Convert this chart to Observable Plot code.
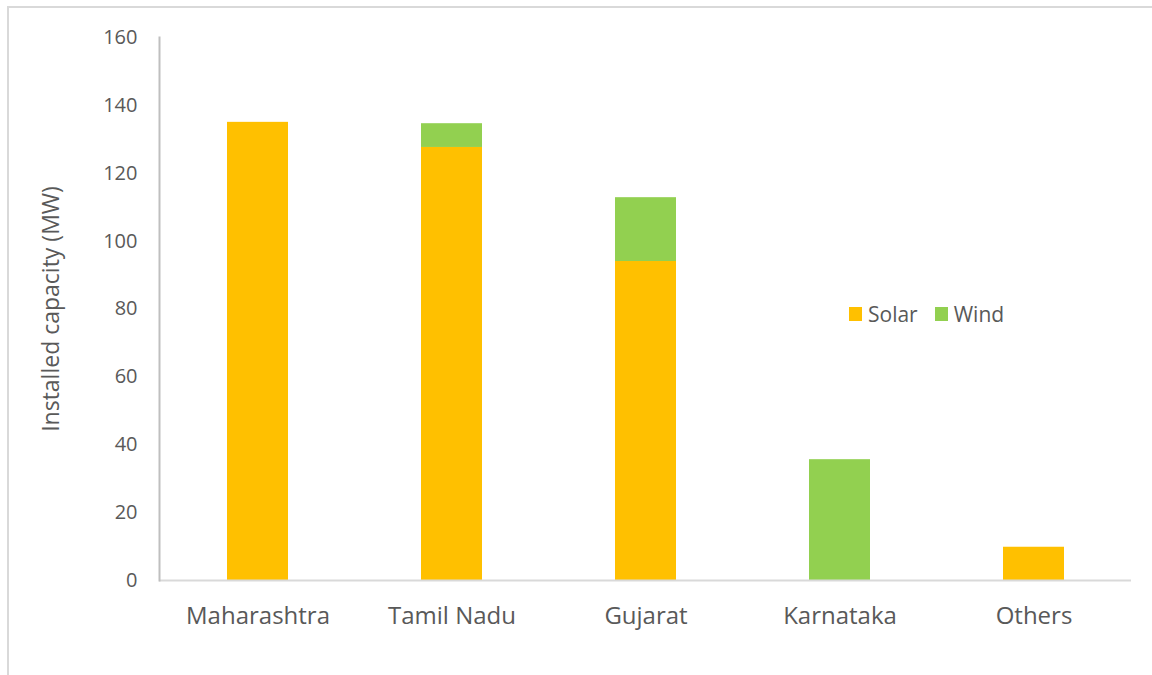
<!DOCTYPE html>
<html>
<head>
<meta charset="utf-8">
<script src="https://cdn.jsdelivr.net/npm/d3@7"></script>
<script src="https://cdn.jsdelivr.net/npm/@observablehq/plot@0.6"></script>
<style>
  html, body { margin: 0; padding: 0; background: #fff; width: 1152px; height: 675px; overflow: hidden; }
  #frame { position: absolute; left: 7px; top: 6px; width: 1170px; height: 700px; border: 2px solid #d9d9d9; box-sizing: border-box; }
  #chart { position: absolute; left: 0; top: 0; }
  #legend { position: absolute; left: 849px; top: 300px; display: flex; align-items: center; font-family: "Open Sans", sans-serif; font-size: 21px; color: #595959; }
  #legend .item { display: flex; align-items: center; margin-right: 17px; }
  #legend .sw { width: 13px; height: 14px; margin-right: 6px; }
</style>
</head>
<body>
<div id="frame"></div>
<div id="chart"></div>
<div id="legend"></div>
<script>
const states = ["Maharashtra", "Tamil Nadu", "Gujarat", "Karnataka", "Others"];
const solar = [135, 127.6, 94, 0, 9.8];
const wind = [0, 7, 18.8, 35.6, 0];
const seriesNames = ["Solar", "Wind"];
const seriesColors = ["#FFC000", "#92D050"];
const yTicks = [0, 20, 40, 60, 80, 100, 120, 140, 160];
const yLabel = "Installed capacity (MW)";

const data = [];
states.forEach((s, i) => {
  data.push({state: s, series: "Solar", value: solar[i]});
  data.push({state: s, series: "Wind", value: wind[i]});
});

const chart = Plot.plot({
  width: 1152,
  height: 675,
  marginLeft: 159,
  marginRight: 21,
  marginTop: 37,
  marginBottom: 95,
  style: {fontFamily: "'Open Sans', sans-serif", color: "#595959", background: "transparent"},
  x: {domain: states, paddingInner: 0.686, paddingOuter: 0.343, label: null},
  y: {domain: [0, 160], ticks: yTicks, label: yLabel},
  color: {domain: seriesNames, range: seriesColors},
  marks: [
    Plot.barY(data, {x: "state", y: "value", fill: "series", order: seriesNames}),
    Plot.ruleY([0], {stroke: "#d9d9d9", strokeWidth: 2}),
    Plot.frame({anchor: "left", stroke: "#bfbfbf", strokeWidth: 2}),
    Plot.axisY({ticks: yTicks, tickSize: 0, tickPadding: 22, fontSize: 20, label: null, fill: "#595959"}),
    Plot.axisY({ticks: [], tickSize: 0, fontSize: 23, label: yLabel, labelAnchor: "center", labelArrow: "none", labelOffset: 117, fill: "#595959"}),
    Plot.axisX({tickSize: 0, tickPadding: 26, fontSize: 24, label: null, fill: "#595959"})
  ]
});
document.getElementById("chart").appendChild(chart);

const legend = document.getElementById("legend");
seriesNames.forEach((name, i) => {
  const item = document.createElement("div");
  item.className = "item";
  const sw = document.createElement("div");
  sw.className = "sw";
  sw.style.background = seriesColors[i];
  const t = document.createElement("span");
  t.textContent = name;
  item.appendChild(sw);
  item.appendChild(t);
  legend.appendChild(item);
});
</script>
</body>
</html>
